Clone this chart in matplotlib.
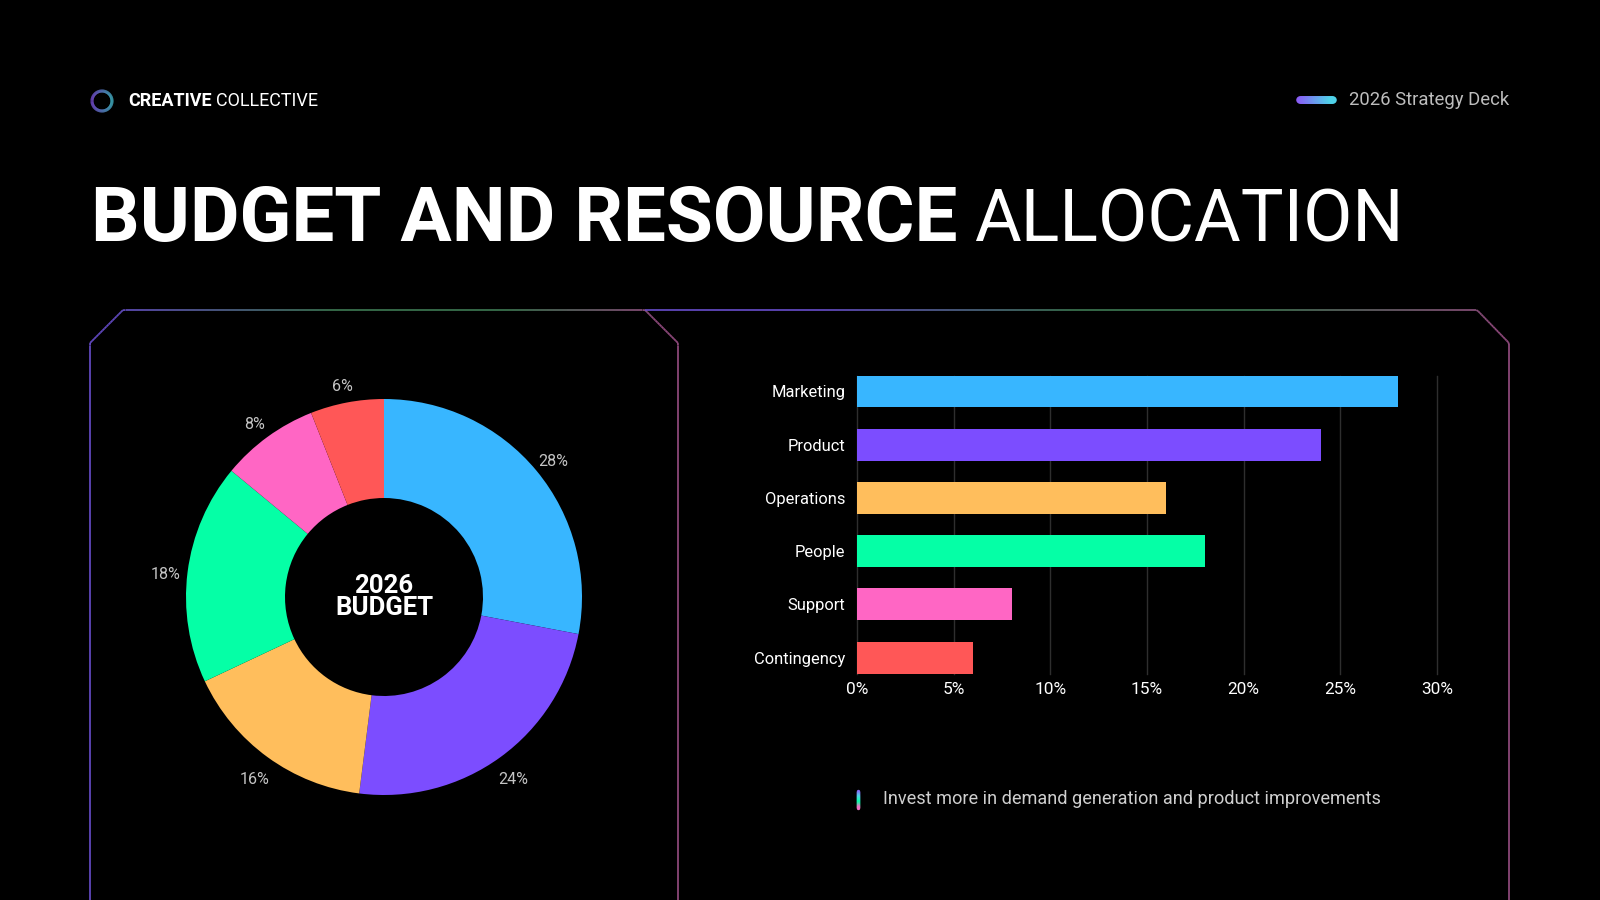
import numpy as np
import matplotlib
matplotlib.use("Agg")
import matplotlib.pyplot as plt
from matplotlib.collections import LineCollection
from matplotlib.colors import LinearSegmentedColormap

# ---------------- data ----------------
categories = ["Marketing", "Product", "Operations", "People", "Support", "Contingency"]
shares = [28, 24, 16, 18, 8, 6]
colors = ["#38b6ff", "#7c4dff", "#ffbe5c", "#05ffa6", "#ff66c4", "#ff5757"]
x_ticks = [0, 5, 10, 15, 20, 25, 30]
x_tick_labels = ["0%", "5%", "10%", "15%", "20%", "25%", "30%"]
brand_bold = "CREATIVE"
brand_regular = "COLLECTIVE"
deck_label = "2026 Strategy Deck"
title_bold = "BUDGET AND RESOURCE"
title_regular = "ALLOCATION"
center_text = "2026\nBUDGET"
note_text = "Invest more in demand generation and product improvements"

W, H = 1600, 900
FONT = ["Roboto", "DejaVu Sans"]
plt.rcParams["font.family"] = FONT

fig = plt.figure(figsize=(16, 9), dpi=100, facecolor="black")

ov = fig.add_axes([0, 0, 1, 1], zorder=0)
ov.set_xlim(0, W)
ov.set_ylim(H, 0)
ov.axis("off")
ov.set_facecolor("black")

fig.canvas.draw()
renderer = fig.canvas.get_renderer()


def fit_size(txt, weight, target_px, ref=50.0):
    t = ov.text(0, 0, txt, fontsize=ref, fontweight=weight)
    w = t.get_window_extent(renderer=renderer).width
    t.remove()
    return ref * target_px / w


def gradient_path(ax, pts, stops, lw=1.3, alpha=0.9, n=600):
    pts = np.asarray(pts, float)
    seg_len = np.hypot(*np.diff(pts, axis=0).T)
    total = seg_len.sum()
    cum = np.concatenate([[0], np.cumsum(seg_len)])
    t = np.linspace(0, total, n)
    xs = np.interp(t, cum, pts[:, 0])
    ys = np.interp(t, cum, pts[:, 1])
    cmap = LinearSegmentedColormap.from_list("g", stops)
    segs = np.stack([np.column_stack([xs[:-1], ys[:-1]]), np.column_stack([xs[1:], ys[1:]])], axis=1)
    lc = LineCollection(segs, colors=cmap(t[:-1] / total), linewidths=lw, alpha=alpha, zorder=1)
    ax.add_collection(lc)


PURPLE, GREEN, PINK = "#6a4fd0", "#3f7d55", "#9a4f86"
gradient_path(ov, [(90, 900), (90, 343), (123, 310), (645, 310), (678, 343), (678, 900)],
              [(0, PURPLE), (0.34, PURPLE), (0.47, GREEN), (0.57, GREEN), (0.66, PINK), (1, PINK)])
gradient_path(ov, [(645, 310), (1477, 310), (1509, 343), (1509, 900)],
              [(0, PURPLE), (0.12, PURPLE), (0.3, GREEN), (0.42, GREEN), (0.6, PINK), (1, PINK)])

# ---------------- header ----------------
theta = np.linspace(0, 2 * np.pi, 200)
cx, cy, r = 102, 101, 10
ring_pts = np.column_stack([cx + r * np.cos(theta), cy + r * np.sin(theta)])
segs = np.stack([ring_pts[:-1], ring_pts[1:]], axis=1)
grad_cmap = LinearSegmentedColormap.from_list("ring", ["#8b5cf6", "#4fd1e8"])
ring_t = (np.cos(theta[:-1]) + 1) / 2
ov.add_collection(LineCollection(segs, colors=grad_cmap(ring_t), linewidths=2.2, zorder=3))

hs = fit_size(brand_bold + " " + brand_regular, "normal", 190)
ov.text(128, 101, brand_bold, fontsize=hs, fontweight="bold", color="white", va="center", ha="left", zorder=4)
ov.text(318, 101, brand_regular, fontsize=hs, fontweight="normal", color="white", va="center", ha="right", zorder=4)

pill_x = np.linspace(1300, 1333, 60)
pseg = np.stack([np.column_stack([pill_x[:-1], np.full(59, 100)]), np.column_stack([pill_x[1:], np.full(59, 100)])], axis=1)
ov.add_collection(LineCollection(pseg, colors=grad_cmap(np.linspace(0, 1, 59)), linewidths=5.5, capstyle="round", zorder=3))
ds = fit_size(deck_label, "normal", 160)
ov.text(1349, 100, deck_label, fontsize=ds, color="#bdbdbd", va="center", ha="left", zorder=4)

# title
tb = fit_size(title_bold, "bold", 866)
tr = fit_size(title_regular, "normal", 430)
ts = min(tb, tr)
ov.text(91, 241, title_bold, fontsize=tb, fontweight="bold", color="white", va="baseline", ha="left", zorder=4)
ov.text(1404, 241, title_regular, fontsize=tr, fontweight="normal", color="white", va="baseline", ha="right", zorder=4)

# ---------------- donut ----------------
R_px = 198
cxp, cyp = 384, 597
half = R_px * 1.35
pie_ax = fig.add_axes([(cxp - half) / W, 1 - (cyp + half) / H, 2 * half / W, 2 * half / H], zorder=2)
pie_ax.set_facecolor("none")
lab_size = fit_size("28%", "normal", 30)
wedges, texts = pie_ax.pie(shares, colors=colors, startangle=90, counterclock=False,
                           labels=[f"{s}%" for s in shares], labeldistance=1.11,
                           wedgeprops=dict(width=0.5, linewidth=0),
                           textprops=dict(color="#c4c4c4", fontsize=lab_size))
for t in texts:
    t.set_ha("center")
    t.set_va("center")
    x, y = t.get_position()
    t.set_position((x, y - 0.025))
pie_ax.set_xlim(-1.35, 1.35)
pie_ax.set_ylim(-1.35, 1.35)
pie_ax.set_aspect("equal")
pie_ax.axis("off")
cs = fit_size("BUDGET", "bold", 98)
pie_ax.text(0, 0, center_text, ha="center", va="center", color="white", fontsize=cs,
            fontweight="bold", linespacing=0.92)

# ---------------- bars ----------------
bx0, bx1 = 857, 1437
by0, by1 = 375.5, 673.5
bar_ax = fig.add_axes([bx0 / W, 1 - by1 / H, (bx1 - bx0) / W, (by1 - by0) / H], zorder=2)
bar_ax.set_facecolor("none")
ypos = np.arange(len(categories))
bar_ax.barh(ypos, shares, color=colors, height=0.6, zorder=3)
bar_ax.set_xlim(0, 30)
bar_ax.set_ylim(len(categories) - 1 + 0.3, -0.3)
bar_ax.set_xticks(x_ticks)
bar_ax.set_xticklabels(x_tick_labels)
bar_ax.set_yticks(ypos)
bar_ax.set_yticklabels(categories)
ys_size = fit_size("Marketing", "normal", 74)
xs_size = fit_size("30%", "normal", 32)
bar_ax.tick_params(axis="y", length=0, colors="white", labelsize=ys_size, pad=8.5)
bar_ax.tick_params(axis="x", length=0, colors="white", labelsize=xs_size, pad=6)
for xv in x_ticks:
    bar_ax.axvline(xv, color="#2e2e2e", linewidth=1, zorder=0, clip_on=False)
for s in bar_ax.spines.values():
    s.set_visible(False)

# note
ny = np.linspace(791, 808, 40)
nseg = np.stack([np.column_stack([np.full(39, 858), ny[:-1]]), np.column_stack([np.full(39, 858), ny[1:]])], axis=1)
note_cmap = LinearSegmentedColormap.from_list("note", ["#8b5cf6", "#4fd1e8", "#05ffa6", "#ff66c4"])
ov.add_collection(LineCollection(nseg, colors=note_cmap(np.linspace(0, 1, 39)), linewidths=2.5, capstyle="round", zorder=3))
ns = fit_size(note_text, "normal", 497)
ov.text(883, 799, note_text, fontsize=ns, color="#cfcfcf", va="center", ha="left", zorder=4)

fig.savefig("out.png", dpi=100, facecolor="black")
